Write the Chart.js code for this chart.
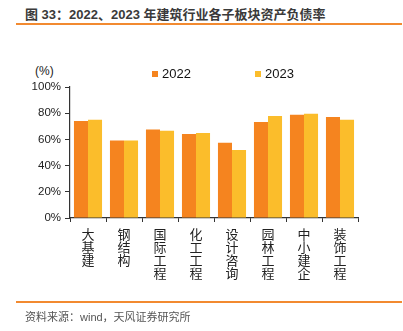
<!DOCTYPE html>
<html><head><meta charset="utf-8">
<script src="https://cdn.jsdelivr.net/npm/chart.js@4"></script>
<style>
html,body{margin:0;padding:0;background:#fff;width:403px;height:331px;overflow:hidden;font-family:"Liberation Sans","Noto Sans CJK SC",sans-serif;}
#title{position:absolute;left:25px;top:4px;font-size:13px;font-weight:bold;color:#3a3a3a;white-space:nowrap;font-family:"Liberation Sans","Noto Sans CJK SC",sans-serif;}
.line{position:absolute;left:16px;width:386px;height:2px;background:#F28A30;}
#src{position:absolute;left:25px;top:308px;font-size:11px;color:#555;white-space:nowrap;}
#unit{position:absolute;left:35px;top:64px;font-size:12px;color:#222;}
#wrap{position:absolute;left:0;top:0;width:403px;height:331px;}
</style></head>
<body>
<div id="title">图 33：2022、2023 年建筑行业各子板块资产负债率</div>
<div class="line" style="top:23px"></div>
<div id="unit">(%)</div>
<div id="wrap"><canvas id="c" width="403" height="331"></canvas></div>
<div class="line" style="top:301px;height:1.5px"></div>
<div id="src">资料来源：wind，天风证券研究所</div>
<script>
const categories = ['大基建','钢结构','国际工程','化工工程','设计咨询','园林工程','中小建企','装饰工程'];
const seriesNames = ['2022','2023'];
const values2022 = [74.0, 59.2, 67.6, 64.1, 57.5, 73.3, 78.9, 77.1];
const values2023 = [75.0, 59.2, 66.6, 64.9, 51.9, 77.9, 79.6, 75.0];
const yTicks = [0, 20, 40, 60, 80, 100];
const colors = ['#F5841F', '#FBBD2B'];

const legendPlugin = {
  id: 'customLegend',
  afterDraw(chart) {
    const ctx = chart.ctx;
    const items = [{x:152, name: seriesNames[0], c: colors[0]}, {x:255, name: seriesNames[1], c: colors[1]}];
    ctx.save();
    ctx.font = '13px "Liberation Sans", Arial, sans-serif';
    ctx.textBaseline = 'middle';
    items.forEach(it => {
      ctx.fillStyle = it.c;
      ctx.fillRect(it.x, 71, 6, 6);
      ctx.fillStyle = '#111';
      ctx.fillText(it.name, it.x + 10, 74.5);
    });
    ctx.restore();
  }
};

new Chart(document.getElementById('c'), {
  type: 'bar',
  data: {
    labels: categories.map(s => s.split('')),
    datasets: [
      {label: seriesNames[0], data: values2022, backgroundColor: colors[0], categoryPercentage: 0.78, barPercentage: 1.0},
      {label: seriesNames[1], data: values2023, backgroundColor: colors[1], categoryPercentage: 0.78, barPercentage: 1.0}
    ]
  },
  options: {
    responsive: false,
    animation: false,
    devicePixelRatio: 1,
    layout: {padding: {top: 87, right: 45, left: 0, bottom: 0}},
    plugins: {legend: {display: false}, title: {display: false}, tooltip: {enabled: false}},
    scales: {
      y: {
        min: 0, max: 100,
        afterBuildTicks: (s) => { s.ticks = yTicks.map(v => ({value: v})); },
        afterFit: (s) => { s.width = 70; },
        border: {display: true, color: '#333', width: 1.2},
        grid: {display: true, drawOnChartArea: false, drawTicks: true, tickLength: 5, color: '#333', lineWidth: 1},
        ticks: {
          callback: v => v + '%',
          color: '#222', padding: 4,
          font: {size: 11.5, family: '"Liberation Sans", Arial, sans-serif'}
        }
      },
      x: {
        afterFit: (s) => { s.height = 113; },
        border: {display: true, color: '#333', width: 1.2},
        grid: {display: true, drawOnChartArea: false, drawTicks: true, tickLength: 4, color: '#333', offset: true},
        ticks: {
          color: '#222', padding: 6, maxRotation: 0, autoSkip: false,
          font: {size: 13, family: '"Noto Sans CJK SC", sans-serif', lineHeight: 1.0}
        }
      }
    }
  },
  plugins: [legendPlugin]
});
</script>
</body></html>
